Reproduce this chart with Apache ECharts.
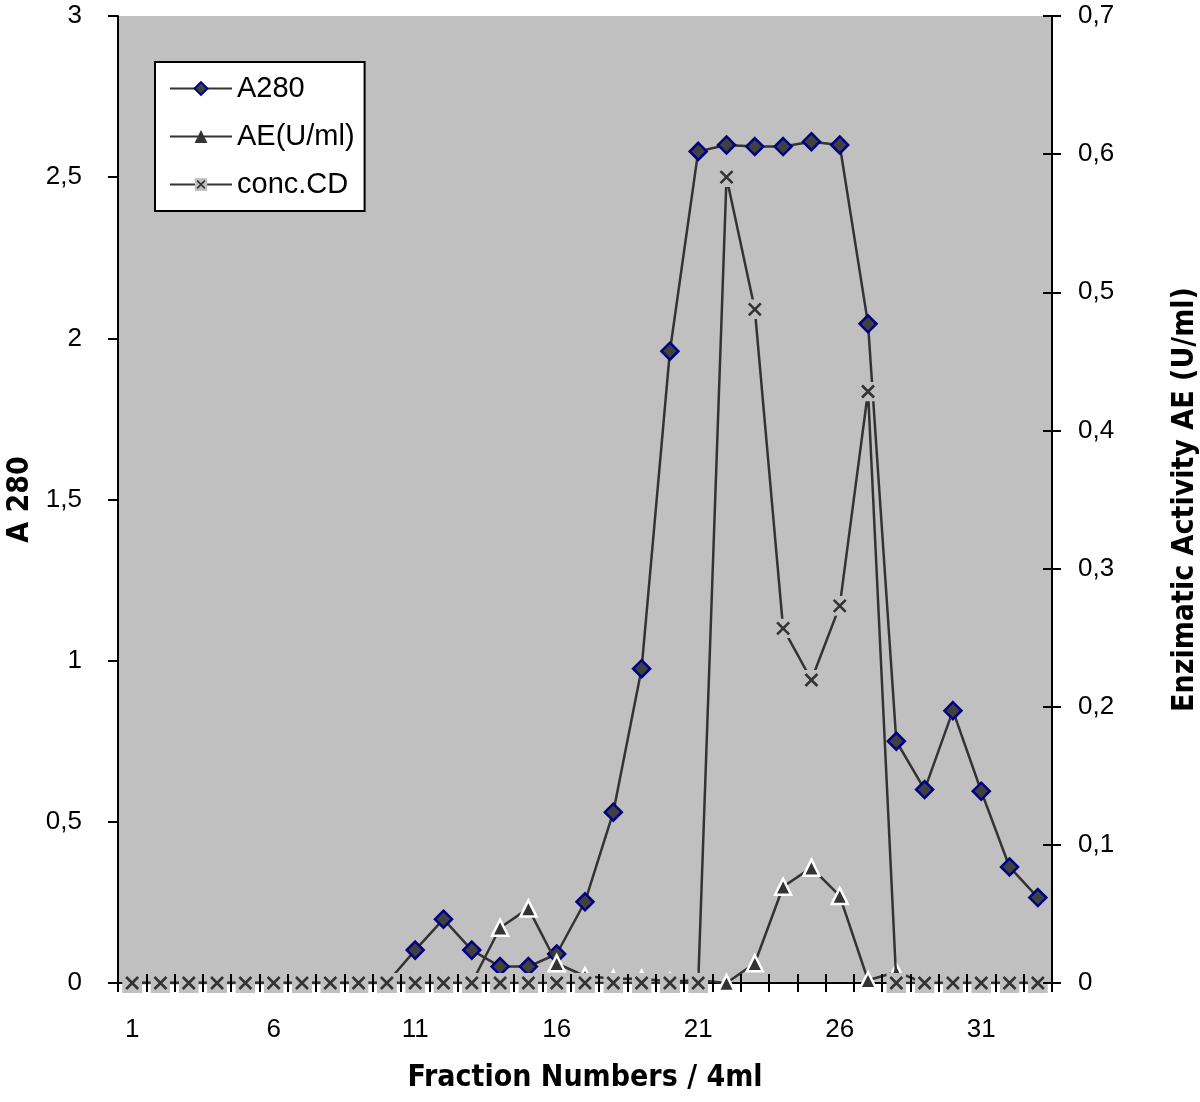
<!DOCTYPE html>
<html>
<head>
<meta charset="utf-8">
<script src="https://cdn.jsdelivr.net/npm/echarts@6/dist/echarts.min.js"></script>
<style>html,body{margin:0;padding:0;background:#fff}#c{width:1200px;height:1102px}</style>
</head>
<body>
<div id="c"></div>
<script>
const fractions = ['1','2','3','4','5','6','7','8','9','10','11','12','13','14','15','16','17','18','19','20','21','22','23','24','25','26','27','28','29','30','31','32','33'];
const a280 = [0,0,0,0,0,0,0,0,0,0,0.102,0.198,0.102,0.051,0.051,0.09,0.252,0.53,0.975,1.96,2.58,2.60,2.595,2.595,2.61,2.60,2.045,0.75,0.60,0.845,0.595,0.36,0.265];
const ae = [0,0,0,0,0,0,0,0,0,0,0,0,0,0.040,0.054,0.0143,0.005,0.003,0.003,0.001,0.002,0,0.0143,0.0697,0.0835,0.063,0.002,0.008,0,0,0,0,0];
const concCD = [0,0,0,0,0,0,0,0,0,0,0,0,0,0,0,0,0,0,0,0,0,2.50,2.09,1.10,0.94,1.17,1.835,0,0,0,0,0,0];
const leftTicks = {min:0, max:3, interval:0.5};
const rightTicks = {min:0, max:0.7, interval:0.1};

const TICKFONT = "'Liberation Sans', Arial, sans-serif";
const TITLEFONT = "'Liberation Sans Narrow', 'DejaVu Sans Condensed', 'Liberation Sans', sans-serif";
const comma = v => String(+v.toFixed(2)).replace('.', ',');
const crossSvg = "<svg xmlns='http://www.w3.org/2000/svg' width='20' height='20'><rect width='20' height='20' fill='#C0C0C0'/><path d='M4 4L16 16M16 4L4 16' stroke='#333333' stroke-width='2.6'/></svg>";
const crossSymbol = 'image://data:image/svg+xml;charset=utf-8,' + encodeURIComponent(crossSvg);

const tickOnly = (inside) => ({
  type: 'category', data: fractions, boundaryGap: true, position: 'bottom', offset: 0, z: 10,
  axisLine: {show: false},
  axisTick: {show: true, interval: 0, inside: inside, length: 9, lineStyle: {color: '#000', width: 2}},
  axisLabel: {show: false}, splitLine: {show: false}
});

const chart = echarts.init(document.getElementById('c'));
chart.setOption({
  animation: false,
  backgroundColor: '#ffffff',
  grid: {left: 118, right: 148, top: 16, bottom: 119, show: true, backgroundColor: '#C0C0C0', borderWidth: 0, containLabel: false, outerBoundsMode: 'none'},
  legend: {
    orient: 'vertical', left: 155, top: 62,
    backgroundColor: '#ffffff', borderColor: '#000', borderWidth: 2,
    padding: [12, 10, 12, 14], itemGap: 19, itemWidth: 62, itemHeight: 16,
    textStyle: {fontFamily: TICKFONT, fontSize: 29, color: '#000'},
    data: [
      {name: 'A280'},
      {name: 'AE(U/ml)', itemStyle: {borderWidth: 0}},
      {name: 'conc.CD'}
    ]
  },
  xAxis: [{
    type: 'category', data: fractions, boundaryGap: true,
    name: 'Fraction Numbers / 4ml', nameLocation: 'middle', nameGap: 80,
    nameTextStyle: {fontFamily: TITLEFONT, fontWeight: 'bold', fontSize: 30, color: '#000'},
    axisLine: {lineStyle: {color: '#000', width: 2}},
    axisTick: {show: false},
    axisLabel: {interval: 4, margin: 34, fontFamily: TICKFONT, fontSize: 26, color: '#000'},
    splitLine: {show: false}
  }, tickOnly(true), tickOnly(false)],
  yAxis: [{
    type: 'value', position: 'left', min: leftTicks.min, max: leftTicks.max, interval: leftTicks.interval,
    name: 'A 280', nameLocation: 'middle', nameGap: 80, nameRotate: 90,
    nameTextStyle: {fontFamily: TITLEFONT, fontWeight: 'bold', fontSize: 30, color: '#000'},
    axisLine: {show: true, lineStyle: {color: '#000', width: 2}},
    axisTick: {show: true, length: 10, lineStyle: {color: '#000', width: 2}},
    axisLabel: {margin: 36, fontFamily: TICKFONT, fontSize: 26, color: '#000', formatter: comma},
    splitLine: {show: false}
  }, {
    type: 'value', position: 'right', min: rightTicks.min, max: rightTicks.max, interval: rightTicks.interval,
    name: 'Enzimatic Activity AE (U/ml)', nameLocation: 'middle', nameGap: 118, nameRotate: 90,
    nameTextStyle: {fontFamily: TITLEFONT, fontWeight: 'bold', fontSize: 30, color: '#000'},
    axisLine: {show: true, lineStyle: {color: '#000', width: 2}},
    axisTick: {show: true, length: 9, lineStyle: {color: '#000', width: 2}},
    axisLabel: {margin: 26, fontFamily: TICKFONT, fontSize: 26, color: '#000', formatter: comma},
    splitLine: {show: false}
  }, {
    type: 'value', position: 'right', offset: 0, min: rightTicks.min, max: rightTicks.max, interval: rightTicks.interval, z: 10,
    axisLine: {show: false},
    axisTick: {show: true, inside: true, length: 9, lineStyle: {color: '#000', width: 2}},
    axisLabel: {show: false}, splitLine: {show: false}
  }],
  series: [{
    name: 'A280', type: 'line', data: a280, xAxisIndex: 0, yAxisIndex: 0,
    symbol: 'diamond', symbolSize: 17, showAllSymbol: true,
    lineStyle: {color: '#333333', width: 2.5},
    itemStyle: {color: '#404040', borderColor: '#000080', borderWidth: 2.5},
    z: 2
  }, {
    name: 'AE(U/ml)', type: 'line', data: ae, xAxisIndex: 0, yAxisIndex: 1,
    symbol: 'triangle', symbolSize: 16, showAllSymbol: true,
    lineStyle: {color: '#333333', width: 2.5},
    itemStyle: {color: '#333333', borderColor: '#ffffff', borderWidth: 2.5},
    z: 3
  }, {
    name: 'conc.CD', type: 'line', data: concCD, xAxisIndex: 0, yAxisIndex: 0,
    symbol: crossSymbol, symbolSize: 20, showAllSymbol: true,
    lineStyle: {color: '#333333', width: 2.5},
    itemStyle: {color: '#333333'},
    z: 4
  }, {
    name: 'tickHelperA', type: 'line', data: [], xAxisIndex: 1, yAxisIndex: 2, silent: true, showSymbol: false
  }, {
    name: 'tickHelperB', type: 'line', data: [], xAxisIndex: 2, yAxisIndex: 2, silent: true, showSymbol: false
  }]
});
</script>
</body>
</html>
